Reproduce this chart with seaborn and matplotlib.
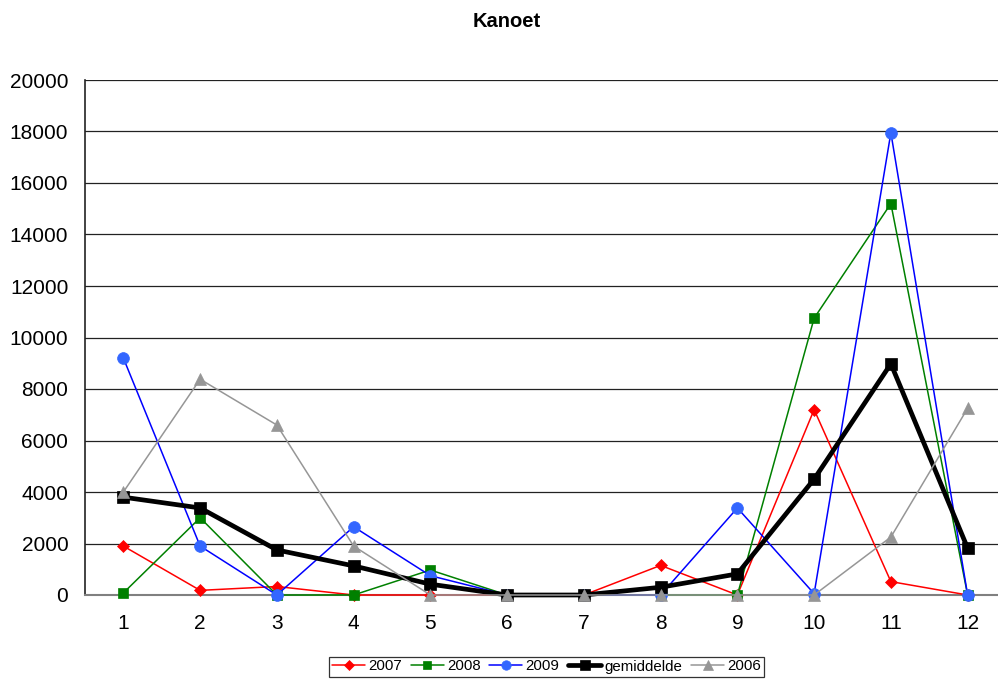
import matplotlib
matplotlib.use("Agg")
import matplotlib.pyplot as plt
from matplotlib.ticker import FixedLocator
import numpy as np
import pandas as pd
import seaborn as sns

months = [1, 2, 3, 4, 5, 6, 7, 8, 9, 10, 11, 12]
v2007 = [1900, 180, 330, 0, 0, 0, 0, 1150, 0, 7200, 520, 0]
v2008 = [80, 3000, 0, 0, 970, 0, 0, 0, 0, 10750, 15200, 0]
v2009 = [9200, 1900, 0, 2650, 750, 0, 0, 0, 3380, 50, 17950, 0]
gemiddelde = [3800, 3380, 1750, 1130, 420, 0, 0, 300, 820, 4500, 8980, 1820]
v2006 = [4000, 8380, 6600, 1900, 0, 0, 0, 0, 0, 0, 2250, 7250]

series = [
    ("2007", v2007),
    ("2008", v2008),
    ("2009", v2009),
    ("gemiddelde", gemiddelde),
    ("2006", v2006),
]
df = pd.DataFrame(
    [(name, m, v) for name, vals in series for m, v in zip(months, vals)],
    columns=["reeks", "maand", "aantal"],
)

styles = {
    "2007": dict(color="#FF0000", marker="D", markersize=6.5, mfc="#FF0000", mec="#FF0000", lw=1.1),
    "2008": dict(color="#008000", marker="s", markersize=7.5, mfc="#008000", mec="#008000", lw=1.1),
    "2009": dict(color="#0000FF", marker="o", markersize=8.5, mfc="#3366FF", mec="#3366FF", lw=1.1),
    "gemiddelde": dict(color="#000000", marker="s", markersize=8.5, mfc="#000000", mec="#000000", lw=3.4),
    "2006": dict(color="#969696", marker="^", markersize=9, mfc="#969696", mec="#969696", lw=1.1),
}

sns.set_theme(style="white")
plt.rcParams["font.family"] = ["Liberation Sans", "DejaVu Sans"]
plt.rcParams["text.color"] = "black"

fig = plt.figure(figsize=(9.98, 6.79), dpi=100)
ax = fig.add_axes([85 / 998, (679 - 595) / 679, 921 / 998, 515 / 679])

for name, _ in series:
    st = styles[name]
    sns.lineplot(
        data=df[df["reeks"] == name], x="maand", y="aantal", ax=ax,
        color=st["color"], linewidth=st["lw"], marker=st["marker"],
        markersize=st["markersize"], markerfacecolor=st["mfc"],
        markeredgecolor=st["mec"], markeredgewidth=0.5, label=name,
        clip_on=False, zorder=3,
    )

ax.set_xlim(0.5, 12.5)
ax.set_ylim(0, 20000)
ax.set_yticks(np.arange(0, 20001, 2000))
ax.set_xticks(months)
ax.xaxis.set_minor_locator(FixedLocator(np.arange(0.5, 13, 1)))
ax.tick_params(axis="x", which="major", length=0, labelsize=15, pad=14)
ax.tick_params(axis="x", which="minor", length=5, width=1, color="#222222", direction="out")
ax.tick_params(axis="y", which="major", length=6, width=1, color="#222222", direction="out",
               labelsize=15, pad=6)
for lab in ax.get_yticklabels() + ax.get_xticklabels():
    lab.set_color("black")

ax.grid(axis="y", color="#222222", linewidth=0.9)
ax.set_axisbelow(True)
for side in ("top", "right"):
    ax.spines[side].set_visible(False)
ax.spines["left"].set_color("#222222")
ax.spines["left"].set_linewidth(1.2)
ax.spines["bottom"].set_color("#808080")
ax.spines["bottom"].set_linewidth(1.5)
ax.set_xlabel("")
ax.set_ylabel("")

fig.text(507 / 998, 1 - 27 / 679, "Kanoet", ha="center", va="baseline",
         fontsize=14.5, fontweight="bold", color="black")

handles, labels = ax.get_legend_handles_labels()
leg = ax.legend(handles, labels, loc="center", bbox_to_anchor=(546.5 / 998, 1 - 666.5 / 679),
                bbox_transform=fig.transFigure, ncol=5, frameon=True, fancybox=False,
                edgecolor="black", fontsize=10.8, handlelength=2.2, handletextpad=0.2,
                columnspacing=0.6, borderpad=0.2, borderaxespad=0, markerscale=0.8)
leg.get_frame().set_linewidth(0.9)
for t in leg.get_texts():
    t.set_color("black")

fig.savefig("out.png", dpi=100)
